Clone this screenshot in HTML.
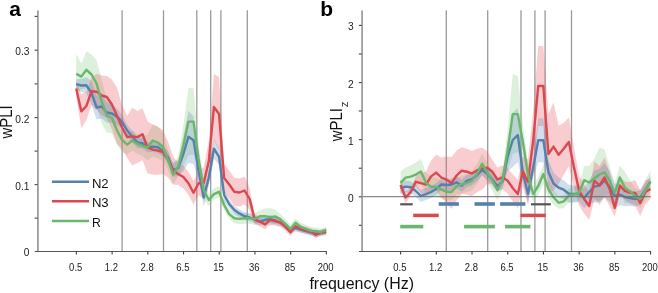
<!DOCTYPE html>
<html><head><meta charset="utf-8"><style>html,body{margin:0;padding:0;background:#fff;}svg{display:block;will-change:transform;}</style></head>
<body><svg width="658" height="293" viewBox="0 0 658 293"><rect width="658" height="293" fill="#fff"/>
<line x1="122.10" y1="10.3" x2="122.10" y2="251" stroke="#9a9a9a" stroke-width="1.3"/>
<line x1="163.50" y1="10.3" x2="163.50" y2="251" stroke="#9a9a9a" stroke-width="1.3"/>
<line x1="196.80" y1="10.3" x2="196.80" y2="251" stroke="#9a9a9a" stroke-width="1.3"/>
<line x1="210.70" y1="10.3" x2="210.70" y2="251" stroke="#9a9a9a" stroke-width="1.3"/>
<line x1="220.90" y1="10.3" x2="220.90" y2="251" stroke="#9a9a9a" stroke-width="1.3"/>
<line x1="247.30" y1="10.3" x2="247.30" y2="251" stroke="#9a9a9a" stroke-width="1.3"/>
<polygon points="76.20,53.70 81.30,63.60 86.40,51.30 91.50,54.50 96.60,60.50 101.70,79.50 106.81,98.50 111.91,102.50 117.01,116.50 122.11,128.00 127.21,134.60 132.31,130.50 137.41,133.90 142.51,135.90 147.61,134.50 152.72,124.50 157.82,126.50 162.92,133.00 168.02,150.00 173.12,164.60 178.22,156.50 183.32,126.00 188.42,87.60 193.52,88.60 198.62,145.00 203.73,180.00 208.83,194.00 213.93,188.35 219.03,186.30 224.13,199.75 229.23,209.10 234.33,213.03 239.43,213.57 244.53,212.70 249.63,212.53 254.74,213.17 259.84,210.30 264.94,208.60 270.04,208.10 275.14,209.40 280.24,214.10 285.34,219.12 290.44,224.44 295.54,218.37 300.64,222.69 305.75,225.01 310.85,227.33 315.95,227.56 321.05,229.08 326.15,226.60 326.15,232.60 321.05,235.52 315.95,234.44 310.85,234.67 305.75,232.79 300.64,230.91 295.54,227.03 290.44,233.56 285.34,228.68 280.24,224.10 275.14,223.40 270.04,226.10 264.94,223.60 259.84,222.30 254.74,224.83 249.63,223.87 244.53,223.70 239.43,224.23 234.33,223.37 229.23,219.10 224.13,210.25 219.03,197.30 213.93,199.85 208.83,206.00 203.73,200.00 198.62,173.00 193.52,154.60 188.42,155.60 183.32,166.00 178.22,176.50 173.12,184.60 168.02,170.00 162.92,161.00 157.82,158.50 152.72,156.50 147.61,160.50 142.51,155.90 137.41,153.90 132.31,150.50 127.21,154.60 122.11,152.00 117.01,144.50 111.91,133.50 106.81,132.50 101.70,123.50 96.60,106.50 91.50,94.50 86.40,88.30 81.30,89.60 76.20,93.70" fill="#7cc87a" fill-opacity="0.27" stroke="none"/>
<polygon points="76.20,80.60 81.30,94.30 86.40,92.00 91.50,77.70 96.60,73.70 101.70,75.50 106.81,76.00 111.91,79.50 117.01,87.80 122.11,105.50 127.21,116.00 132.31,107.40 137.41,111.10 142.51,108.30 147.61,121.50 152.72,124.60 157.82,126.70 162.92,130.00 168.02,141.50 173.12,156.50 178.22,162.90 183.32,165.85 188.42,171.70 193.52,181.05 198.62,171.20 203.73,167.00 208.83,141.00 213.93,74.00 219.03,77.00 224.13,164.00 229.23,170.50 234.33,177.80 239.43,178.50 244.53,176.50 249.63,188.00 254.74,214.60 259.84,216.54 264.94,219.89 270.04,215.23 275.14,216.77 280.24,218.21 285.34,222.46 290.44,228.30 295.54,222.34 300.64,225.19 305.75,226.73 310.85,228.17 315.95,231.71 321.05,229.16 326.15,229.30 326.15,235.30 321.05,235.44 315.95,238.29 310.85,235.03 305.75,233.87 300.64,232.61 295.54,230.06 290.44,236.30 285.34,230.74 280.24,226.79 275.14,225.63 270.04,224.37 264.94,229.31 259.84,226.26 254.74,224.60 249.63,210.00 244.53,204.50 239.43,206.50 234.33,205.80 229.23,198.50 224.13,192.00 219.03,151.00 213.93,140.00 208.83,181.00 203.73,199.00 198.62,195.20 193.52,204.55 188.42,194.70 183.32,188.35 178.22,184.90 173.12,184.50 168.02,177.50 162.92,174.00 157.82,174.70 152.72,174.60 147.61,173.50 142.51,160.30 137.41,163.10 132.31,165.40 127.21,158.00 122.11,149.50 117.01,143.80 111.91,129.50 106.81,118.00 101.70,115.50 96.60,109.70 91.50,104.90 86.40,120.00 81.30,128.30 76.20,96.60" fill="#ec5a63" fill-opacity="0.3" stroke="none"/>
<polygon points="76.20,79.20 81.30,79.00 86.40,77.30 91.50,81.00 96.60,95.50 101.70,94.50 106.81,102.50 111.91,104.50 117.01,108.60 122.11,114.80 127.21,124.50 132.31,130.75 137.41,137.00 142.51,137.95 147.61,142.30 152.72,141.35 157.82,141.80 162.92,144.95 168.02,151.50 173.12,163.00 178.22,160.00 183.32,137.00 188.42,110.80 193.52,116.20 198.62,160.90 203.73,188.50 208.83,169.70 213.93,138.70 219.03,148.80 224.13,189.00 229.23,200.00 234.33,206.05 239.43,209.51 244.53,212.36 249.63,213.71 254.74,215.86 259.84,218.12 264.94,216.17 270.04,215.52 275.14,216.97 280.24,219.03 285.34,222.48 290.44,226.63 295.54,224.88 300.64,226.34 305.75,227.79 310.85,229.14 315.95,230.59 321.05,229.95 326.15,228.60 326.15,234.60 321.05,236.05 315.95,236.81 310.85,235.46 305.75,234.21 300.64,232.86 295.54,231.52 290.44,233.37 285.34,229.32 280.24,225.97 275.14,224.03 270.04,222.68 264.94,223.43 259.84,225.48 254.74,223.34 249.63,221.29 244.53,220.04 239.43,217.29 234.33,213.95 229.23,208.00 224.13,201.00 219.03,164.80 213.93,158.70 208.83,185.70 203.73,206.50 198.62,180.90 193.52,164.20 188.42,162.80 183.32,171.00 178.22,176.00 173.12,177.00 168.02,163.50 162.92,156.45 157.82,152.80 152.72,151.85 147.61,152.30 142.51,148.45 137.41,148.00 132.31,142.25 127.21,136.50 122.11,128.80 117.01,124.60 111.91,122.50 106.81,122.50 101.70,118.50 96.60,119.50 91.50,105.00 86.40,93.30 81.30,92.00 76.20,89.20" fill="#4a7db2" fill-opacity="0.25" stroke="none"/>
<polyline points="76.20,84.20 81.30,85.50 86.40,85.30 91.50,93.00 96.60,107.50 101.70,106.50 106.81,112.50 111.91,113.50 117.01,116.60 122.11,121.80 127.21,130.50 132.31,136.50 137.41,142.50 142.51,143.20 147.61,147.30 152.72,146.60 157.82,147.30 162.92,150.70 168.02,157.50 173.12,170.00 178.22,168.00 183.32,154.00 188.42,136.80 193.52,140.20 198.62,170.90 203.73,197.50 208.83,177.70 213.93,148.70 219.03,156.80 224.13,195.00 229.23,204.00 234.33,210.00 239.43,213.40 244.53,216.20 249.63,217.50 254.74,219.60 259.84,221.80 264.94,219.80 270.04,219.10 275.14,220.50 280.24,222.50 285.34,225.90 290.44,230.00 295.54,228.20 300.64,229.60 305.75,231.00 310.85,232.30 315.95,233.70 321.05,233.00 326.15,231.60" fill="none" stroke="#5581ab" stroke-width="2.4" stroke-linejoin="round" stroke-linecap="butt"/>
<polyline points="76.20,88.60 81.30,111.30 86.40,106.00 91.50,91.30 96.60,91.70 101.70,95.50 106.81,97.00 111.91,104.50 117.01,115.80 122.11,127.50 127.21,137.00 132.31,136.40 137.41,137.10 142.51,134.30 147.61,147.50 152.72,149.60 157.82,150.70 162.92,152.00 168.02,159.50 173.12,170.50 178.22,173.90 183.32,177.10 188.42,183.20 193.52,192.80 198.62,183.20 203.73,183.00 208.83,161.00 213.93,107.00 219.03,114.00 224.13,178.00 229.23,184.50 234.33,191.80 239.43,192.50 244.53,190.50 249.63,199.00 254.74,219.60 259.84,221.40 264.94,224.60 270.04,219.80 275.14,221.20 280.24,222.50 285.34,226.60 290.44,232.30 295.54,226.20 300.64,228.90 305.75,230.30 310.85,231.60 315.95,235.00 321.05,232.30 326.15,232.30" fill="none" stroke="#da4850" stroke-width="2.4" stroke-linejoin="round" stroke-linecap="butt"/>
<polyline points="76.20,73.70 81.30,76.60 86.40,69.80 91.50,74.50 96.60,83.50 101.70,101.50 106.81,115.50 111.91,118.00 117.01,130.50 122.11,140.00 127.21,144.60 132.31,140.50 137.41,143.90 142.51,145.90 147.61,147.50 152.72,140.50 157.82,142.50 162.92,147.00 168.02,160.00 173.12,174.60 178.22,166.50 183.32,146.00 188.42,121.60 193.52,121.60 198.62,159.00 203.73,190.00 208.83,200.00 213.93,194.10 219.03,191.80 224.13,205.00 229.23,214.10 234.33,218.20 239.43,218.90 244.53,218.20 249.63,218.20 254.74,219.00 259.84,216.30 264.94,216.10 270.04,217.10 275.14,216.40 280.24,219.10 285.34,223.90 290.44,229.00 295.54,222.70 300.64,226.80 305.75,228.90 310.85,231.00 315.95,231.00 321.05,232.30 326.15,229.60" fill="none" stroke="#6bb66d" stroke-width="2.4" stroke-linejoin="round" stroke-linecap="butt"/>
<line x1="37.90" y1="10.6" x2="37.90" y2="251.4" stroke="#999" stroke-width="1.7"/>
<line x1="34.70" y1="251.5" x2="326.80" y2="251.5" stroke="#555" stroke-width="1.2"/>
<line x1="34.60" y1="50.2" x2="37.50" y2="50.2" stroke="#444" stroke-width="1.1"/>
<line x1="34.60" y1="117.6" x2="37.50" y2="117.6" stroke="#444" stroke-width="1.1"/>
<line x1="34.60" y1="184.6" x2="37.50" y2="184.6" stroke="#444" stroke-width="1.1"/>
<line x1="34.60" y1="16.4" x2="37.50" y2="16.4" stroke="#444" stroke-width="1.1"/>
<line x1="34.60" y1="83.9" x2="37.50" y2="83.9" stroke="#444" stroke-width="1.1"/>
<line x1="34.60" y1="151.1" x2="37.50" y2="151.1" stroke="#444" stroke-width="1.1"/>
<line x1="34.60" y1="218.1" x2="37.50" y2="218.1" stroke="#444" stroke-width="1.1"/>
<line x1="76.40" y1="251.4" x2="76.40" y2="254.4" stroke="#444" stroke-width="1.1"/>
<line x1="112.11" y1="251.4" x2="112.11" y2="254.4" stroke="#444" stroke-width="1.1"/>
<line x1="147.82" y1="251.4" x2="147.82" y2="254.4" stroke="#444" stroke-width="1.1"/>
<line x1="183.53" y1="251.4" x2="183.53" y2="254.4" stroke="#444" stroke-width="1.1"/>
<line x1="219.24" y1="251.4" x2="219.24" y2="254.4" stroke="#444" stroke-width="1.1"/>
<line x1="254.95" y1="251.4" x2="254.95" y2="254.4" stroke="#444" stroke-width="1.1"/>
<line x1="290.66" y1="251.4" x2="290.66" y2="254.4" stroke="#444" stroke-width="1.1"/>
<line x1="326.37" y1="251.4" x2="326.37" y2="254.4" stroke="#444" stroke-width="1.1"/>
<text transform="translate(75.70,270.7) scale(0.93,1)" font-family="Liberation Sans, sans-serif" font-size="10.2" fill="#222" text-anchor="middle">0.5</text>
<text transform="translate(111.41,270.7) scale(0.93,1)" font-family="Liberation Sans, sans-serif" font-size="10.2" fill="#222" text-anchor="middle">1.2</text>
<text transform="translate(147.12,270.7) scale(0.93,1)" font-family="Liberation Sans, sans-serif" font-size="10.2" fill="#222" text-anchor="middle">2.8</text>
<text transform="translate(182.83,270.7) scale(0.93,1)" font-family="Liberation Sans, sans-serif" font-size="10.2" fill="#222" text-anchor="middle">6.5</text>
<text transform="translate(218.54,270.7) scale(0.93,1)" font-family="Liberation Sans, sans-serif" font-size="10.2" fill="#222" text-anchor="middle">15</text>
<text transform="translate(254.25,270.7) scale(0.93,1)" font-family="Liberation Sans, sans-serif" font-size="10.2" fill="#222" text-anchor="middle">36</text>
<text transform="translate(289.96,270.7) scale(0.93,1)" font-family="Liberation Sans, sans-serif" font-size="10.2" fill="#222" text-anchor="middle">85</text>
<text transform="translate(325.67,270.7) scale(0.93,1)" font-family="Liberation Sans, sans-serif" font-size="10.2" fill="#222" text-anchor="middle">200</text>
<text x="29.40" y="55.20" font-family="Liberation Sans, sans-serif" font-size="10.2" fill="#222" text-anchor="end">0.3</text>
<text x="29.40" y="122.60" font-family="Liberation Sans, sans-serif" font-size="10.2" fill="#222" text-anchor="end">0.2</text>
<text x="29.40" y="189.60" font-family="Liberation Sans, sans-serif" font-size="10.2" fill="#222" text-anchor="end">0.1</text>
<text x="29.40" y="256.40" font-family="Liberation Sans, sans-serif" font-size="10.2" fill="#222" text-anchor="end">0</text>
<line x1="446.30" y1="10.3" x2="446.30" y2="251" stroke="#9a9a9a" stroke-width="1.3"/>
<line x1="487.70" y1="10.3" x2="487.70" y2="251" stroke="#9a9a9a" stroke-width="1.3"/>
<line x1="521.00" y1="10.3" x2="521.00" y2="251" stroke="#9a9a9a" stroke-width="1.3"/>
<line x1="534.90" y1="10.3" x2="534.90" y2="251" stroke="#9a9a9a" stroke-width="1.3"/>
<line x1="545.10" y1="10.3" x2="545.10" y2="251" stroke="#9a9a9a" stroke-width="1.3"/>
<line x1="571.50" y1="10.3" x2="571.50" y2="251" stroke="#9a9a9a" stroke-width="1.3"/>
<polygon points="400.50,171.80 405.60,167.60 410.70,165.60 415.80,162.60 420.90,159.00 426.00,172.80 431.11,176.90 436.21,177.40 441.31,180.50 446.41,183.50 451.51,184.00 456.61,178.00 461.71,175.60 466.81,173.80 471.91,171.20 477.01,163.90 482.12,153.70 487.22,162.50 492.32,170.50 497.42,180.00 502.52,170.00 507.62,130.50 512.72,74.10 517.82,76.10 522.92,124.30 528.02,162.00 533.13,186.00 538.23,177.00 543.33,164.00 548.43,180.33 553.53,189.97 558.63,196.80 563.73,194.90 568.83,188.50 573.93,187.00 579.03,185.00 584.14,166.20 589.24,165.50 594.34,158.50 599.44,147.50 604.54,149.40 609.64,166.60 614.74,182.90 619.84,165.50 624.94,171.80 630.04,180.50 635.15,188.00 640.25,190.00 645.35,180.50 650.45,170.60 650.45,192.60 645.35,200.50 640.25,208.00 635.15,204.00 630.04,202.50 624.94,203.80 619.84,189.50 614.74,202.90 609.64,194.60 604.54,195.40 599.44,201.50 594.34,198.50 589.24,199.50 584.14,194.20 579.03,201.00 573.93,202.00 568.83,202.50 563.73,207.90 558.63,208.80 553.53,204.63 548.43,197.67 543.33,184.00 538.23,195.00 533.13,202.00 528.02,188.00 522.92,160.30 517.82,152.10 512.72,154.10 507.62,170.50 502.52,190.00 497.42,200.00 492.32,190.50 487.22,182.50 482.12,173.70 477.01,183.90 471.91,190.40 466.81,192.20 461.71,193.20 456.61,194.80 451.51,200.00 446.41,200.50 441.31,198.50 436.21,196.40 431.11,196.90 426.00,192.80 420.90,184.00 415.80,186.60 410.70,187.60 405.60,187.60 400.50,193.80" fill="#7cc87a" fill-opacity="0.27" stroke="none"/>
<polygon points="400.50,179.00 405.60,191.50 410.70,188.00 415.80,176.80 420.90,173.20 426.00,171.60 431.11,160.40 436.21,154.60 441.31,157.50 446.41,156.60 451.51,157.00 456.61,150.50 461.71,147.20 466.81,148.70 471.91,151.00 477.01,148.75 482.12,147.70 487.22,151.10 492.32,159.70 497.42,167.50 502.52,165.30 507.62,167.95 512.72,174.50 517.82,179.75 522.92,156.50 528.02,159.50 533.13,111.00 538.23,46.00 543.33,46.00 548.43,114.00 553.53,102.60 558.63,125.80 563.73,122.70 568.83,117.60 573.93,147.00 579.03,175.50 584.14,184.50 589.24,192.00 594.34,161.50 599.44,166.00 604.54,157.50 609.64,172.00 614.74,199.00 619.84,176.70 624.94,181.80 630.04,181.90 635.15,179.90 640.25,190.10 645.35,180.00 650.45,179.00 650.45,199.00 645.35,204.00 640.25,216.10 635.15,205.90 630.04,203.90 624.94,199.80 619.84,194.70 614.74,217.00 609.64,206.00 604.54,197.50 599.44,205.00 594.34,199.50 589.24,220.00 584.14,213.50 579.03,205.50 573.93,187.00 568.83,166.40 563.73,174.70 558.63,183.80 553.53,190.60 548.43,194.00 543.33,126.00 538.23,126.00 533.13,171.00 528.02,204.50 522.92,186.50 517.82,208.25 512.72,201.50 507.62,193.45 502.52,189.30 497.42,191.50 492.32,183.70 487.22,184.10 482.12,189.70 477.01,192.25 471.91,196.00 466.81,194.70 461.71,194.20 456.61,200.50 451.51,209.00 446.41,202.60 441.31,197.50 436.21,190.60 431.11,192.40 426.00,197.60 420.90,193.20 415.80,186.80 410.70,196.00 405.60,203.50 400.50,191.00" fill="#ec5a63" fill-opacity="0.3" stroke="none"/>
<polygon points="400.50,182.00 405.60,180.60 410.70,181.30 415.80,185.00 420.90,190.00 426.00,188.00 431.11,186.00 436.21,183.00 441.31,178.50 446.41,179.00 451.51,178.50 456.61,176.30 461.71,179.70 466.81,174.90 471.91,173.20 477.01,169.30 482.12,163.80 487.22,167.90 492.32,173.40 497.42,180.20 502.52,175.40 507.62,143.00 512.72,113.00 517.82,108.00 522.92,163.00 528.02,184.00 533.13,158.00 538.23,118.30 543.33,118.30 548.43,160.00 553.53,172.50 558.63,177.60 563.73,180.20 568.83,184.80 573.93,185.50 579.03,186.00 584.14,187.90 589.24,180.00 594.34,170.60 599.44,169.10 604.54,163.60 609.64,171.70 614.74,184.00 619.84,183.83 624.94,187.67 630.04,190.00 635.15,191.50 640.25,190.50 645.35,183.30 650.45,175.60 650.45,187.60 645.35,196.30 640.25,204.50 635.15,206.50 630.04,206.00 624.94,206.33 619.84,205.17 614.74,208.00 609.64,201.70 604.54,197.60 599.44,202.10 594.34,202.60 589.24,204.00 584.14,207.90 579.03,202.00 573.93,202.50 568.83,202.80 563.73,199.20 558.63,197.60 553.53,194.50 548.43,184.00 543.33,162.30 538.23,162.30 533.13,178.00 528.02,204.00 522.92,183.00 517.82,162.00 512.72,167.00 507.62,171.00 502.52,187.40 497.42,192.20 492.32,185.40 487.22,179.90 482.12,175.80 477.01,181.30 471.91,185.20 466.81,186.90 461.71,191.70 456.61,188.30 451.51,190.50 446.41,191.00 441.31,190.50 436.21,195.00 431.11,198.00 426.00,200.00 420.90,202.00 415.80,197.00 410.70,193.30 405.60,192.60 400.50,194.00" fill="#4a7db2" fill-opacity="0.25" stroke="none"/>
<polyline points="400.50,188.00 405.60,186.60 410.70,187.30 415.80,191.00 420.90,196.00 426.00,194.00 431.11,192.00 436.21,189.00 441.31,184.50 446.41,185.00 451.51,184.50 456.61,182.30 461.71,185.70 466.81,180.90 471.91,179.20 477.01,175.30 482.12,169.80 487.22,173.90 492.32,179.40 497.42,186.20 502.52,181.40 507.62,157.00 512.72,140.00 517.82,135.00 522.92,173.00 528.02,194.00 533.13,168.00 538.23,140.30 543.33,140.30 548.43,172.00 553.53,183.50 558.63,187.60 563.73,189.70 568.83,193.80 573.93,194.00 579.03,194.00 584.14,197.90 589.24,192.00 594.34,186.60 599.44,185.60 604.54,180.60 609.64,186.70 614.74,196.00 619.84,194.50 624.94,197.00 630.04,198.00 635.15,199.00 640.25,197.50 645.35,189.80 650.45,181.60" fill="none" stroke="#5581ab" stroke-width="2.4" stroke-linejoin="round" stroke-linecap="butt"/>
<polyline points="400.50,185.00 405.60,197.50 410.70,192.00 415.80,181.80 420.90,183.20 426.00,184.60 431.11,176.40 436.21,172.60 441.31,177.50 446.41,179.60 451.51,183.00 456.61,175.50 461.71,170.70 466.81,171.70 471.91,173.50 477.01,170.50 482.12,168.70 487.22,167.60 492.32,171.70 497.42,179.50 502.52,177.30 507.62,180.70 512.72,188.00 517.82,194.00 522.92,171.50 528.02,182.00 533.13,141.00 538.23,86.00 543.33,86.00 548.43,154.00 553.53,146.60 558.63,154.80 563.73,148.70 568.83,142.00 573.93,167.00 579.03,190.50 584.14,199.00 589.24,206.00 594.34,180.50 599.44,185.50 604.54,177.50 609.64,189.00 614.74,208.00 619.84,185.70 624.94,190.80 630.04,192.90 635.15,192.90 640.25,203.10 645.35,192.00 650.45,189.00" fill="none" stroke="#da4850" stroke-width="2.4" stroke-linejoin="round" stroke-linecap="butt"/>
<polyline points="400.50,182.80 405.60,177.60 410.70,176.60 415.80,174.60 420.90,171.50 426.00,182.80 431.11,186.90 436.21,186.90 441.31,189.50 446.41,192.00 451.51,192.00 456.61,186.40 461.71,184.40 466.81,183.00 471.91,180.80 477.01,173.90 482.12,163.70 487.22,172.50 492.32,180.50 497.42,190.00 502.52,180.00 507.62,150.50 512.72,114.10 517.82,114.10 522.92,142.30 528.02,175.00 533.13,194.00 538.23,186.00 543.33,174.00 548.43,189.00 553.53,197.30 558.63,202.80 563.73,201.40 568.83,195.50 573.93,194.50 579.03,193.00 584.14,180.20 589.24,182.50 594.34,178.50 599.44,174.50 604.54,172.40 609.64,180.60 614.74,192.90 619.84,177.50 624.94,187.80 630.04,191.50 635.15,196.00 640.25,199.00 645.35,190.50 650.45,181.60" fill="none" stroke="#6bb66d" stroke-width="2.4" stroke-linejoin="round" stroke-linecap="butt"/>
<line x1="362.10" y1="196.6" x2="650.70" y2="196.6" stroke="#6a6a6a" stroke-width="1.2" stroke-opacity="0.8"/>
<line x1="362.10" y1="10.6" x2="362.10" y2="251.4" stroke="#999" stroke-width="1.7"/>
<line x1="358.90" y1="251.5" x2="651.00" y2="251.5" stroke="#555" stroke-width="1.2"/>
<line x1="358.80" y1="25.4" x2="361.70" y2="25.4" stroke="#444" stroke-width="1.1"/>
<line x1="358.80" y1="82.6" x2="361.70" y2="82.6" stroke="#444" stroke-width="1.1"/>
<line x1="358.80" y1="139.6" x2="361.70" y2="139.6" stroke="#444" stroke-width="1.1"/>
<line x1="358.80" y1="196.8" x2="361.70" y2="196.8" stroke="#444" stroke-width="1.1"/>
<line x1="358.80" y1="54" x2="361.70" y2="54" stroke="#444" stroke-width="1.1"/>
<line x1="358.80" y1="111" x2="361.70" y2="111" stroke="#444" stroke-width="1.1"/>
<line x1="358.80" y1="168.2" x2="361.70" y2="168.2" stroke="#444" stroke-width="1.1"/>
<line x1="358.80" y1="225.3" x2="361.70" y2="225.3" stroke="#444" stroke-width="1.1"/>
<line x1="400.60" y1="251.4" x2="400.60" y2="254.4" stroke="#444" stroke-width="1.1"/>
<line x1="436.31" y1="251.4" x2="436.31" y2="254.4" stroke="#444" stroke-width="1.1"/>
<line x1="472.02" y1="251.4" x2="472.02" y2="254.4" stroke="#444" stroke-width="1.1"/>
<line x1="507.73" y1="251.4" x2="507.73" y2="254.4" stroke="#444" stroke-width="1.1"/>
<line x1="543.44" y1="251.4" x2="543.44" y2="254.4" stroke="#444" stroke-width="1.1"/>
<line x1="579.15" y1="251.4" x2="579.15" y2="254.4" stroke="#444" stroke-width="1.1"/>
<line x1="614.86" y1="251.4" x2="614.86" y2="254.4" stroke="#444" stroke-width="1.1"/>
<line x1="650.57" y1="251.4" x2="650.57" y2="254.4" stroke="#444" stroke-width="1.1"/>
<text transform="translate(399.90,270.7) scale(0.93,1)" font-family="Liberation Sans, sans-serif" font-size="10.2" fill="#222" text-anchor="middle">0.5</text>
<text transform="translate(435.61,270.7) scale(0.93,1)" font-family="Liberation Sans, sans-serif" font-size="10.2" fill="#222" text-anchor="middle">1.2</text>
<text transform="translate(471.32,270.7) scale(0.93,1)" font-family="Liberation Sans, sans-serif" font-size="10.2" fill="#222" text-anchor="middle">2.8</text>
<text transform="translate(507.03,270.7) scale(0.93,1)" font-family="Liberation Sans, sans-serif" font-size="10.2" fill="#222" text-anchor="middle">6.5</text>
<text transform="translate(542.74,270.7) scale(0.93,1)" font-family="Liberation Sans, sans-serif" font-size="10.2" fill="#222" text-anchor="middle">15</text>
<text transform="translate(578.45,270.7) scale(0.93,1)" font-family="Liberation Sans, sans-serif" font-size="10.2" fill="#222" text-anchor="middle">36</text>
<text transform="translate(614.16,270.7) scale(0.93,1)" font-family="Liberation Sans, sans-serif" font-size="10.2" fill="#222" text-anchor="middle">85</text>
<text transform="translate(649.87,270.7) scale(0.93,1)" font-family="Liberation Sans, sans-serif" font-size="10.2" fill="#222" text-anchor="middle">200</text>
<text x="353.60" y="30.40" font-family="Liberation Sans, sans-serif" font-size="10.2" fill="#222" text-anchor="end">3</text>
<text x="353.60" y="87.60" font-family="Liberation Sans, sans-serif" font-size="10.2" fill="#222" text-anchor="end">2</text>
<text x="353.60" y="144.60" font-family="Liberation Sans, sans-serif" font-size="10.2" fill="#222" text-anchor="end">1</text>
<text x="353.60" y="201.80" font-family="Liberation Sans, sans-serif" font-size="10.2" fill="#222" text-anchor="end">0</text>
<text x="9.3" y="15.8" font-family="Liberation Sans, sans-serif" font-size="21" font-weight="bold" fill="#000">a</text>
<text x="320.3" y="15.8" font-family="Liberation Sans, sans-serif" font-size="21" font-weight="bold" fill="#000">b</text>
<text transform="translate(11.5,138.6) rotate(-90)" font-family="Liberation Sans, sans-serif" font-size="15.8" fill="#111" textLength="33.2" lengthAdjust="spacingAndGlyphs">wPLI</text>
<text transform="translate(342.1,141.2) rotate(-90)" font-family="Liberation Sans, sans-serif" font-size="15.8" fill="#111" textLength="33.2" lengthAdjust="spacingAndGlyphs">wPLI</text>
<text transform="translate(347.6,107) rotate(-90) scale(0.88,1)" font-family="Liberation Sans, sans-serif" font-size="9.6" fill="#111">Z</text>
<text x="309.4" y="289.2" font-family="Liberation Sans, sans-serif" font-size="15.6" fill="#111" textLength="104.6" lengthAdjust="spacingAndGlyphs">frequency (Hz)</text>
<line x1="51.9" y1="181.7" x2="89.1" y2="181.7" stroke="#5581ab" stroke-width="2.5"/>
<text x="91.9" y="187.8" font-family="Liberation Sans, sans-serif" font-size="12.2" fill="#111" textLength="16.8" lengthAdjust="spacingAndGlyphs">N2</text>
<line x1="51.9" y1="201.3" x2="89.1" y2="201.3" stroke="#da4850" stroke-width="2.5"/>
<text x="91.9" y="207.4" font-family="Liberation Sans, sans-serif" font-size="12.2" fill="#111" textLength="16.8" lengthAdjust="spacingAndGlyphs">N3</text>
<line x1="51.9" y1="220.9" x2="89.1" y2="220.9" stroke="#6bb66d" stroke-width="2.5"/>
<text x="91.9" y="227.0" font-family="Liberation Sans, sans-serif" font-size="12.2" fill="#111">R</text>
<line x1="400.2" y1="204.3" x2="412.7" y2="204.3" stroke="#555" stroke-width="2.2"/>
<line x1="438.7" y1="204" x2="458.9" y2="204" stroke="#5581ab" stroke-width="3.6"/>
<line x1="474.5" y1="204" x2="494.9" y2="204" stroke="#5581ab" stroke-width="3.6"/>
<line x1="500.1" y1="204" x2="525.4" y2="204" stroke="#5581ab" stroke-width="3.6"/>
<line x1="531" y1="204.3" x2="550.8" y2="204.3" stroke="#555" stroke-width="2.2"/>
<line x1="413.2" y1="215.4" x2="438.7" y2="215.4" stroke="#da4850" stroke-width="3.5"/>
<line x1="520.5" y1="215.4" x2="545.7" y2="215.4" stroke="#da4850" stroke-width="3.5"/>
<line x1="400.2" y1="226.6" x2="423.3" y2="226.6" stroke="#6bb66d" stroke-width="3.6"/>
<line x1="464.1" y1="226.6" x2="494.9" y2="226.6" stroke="#6bb66d" stroke-width="3.6"/>
<line x1="505.1" y1="226.6" x2="530.4" y2="226.6" stroke="#6bb66d" stroke-width="3.6"/></svg></body></html>
